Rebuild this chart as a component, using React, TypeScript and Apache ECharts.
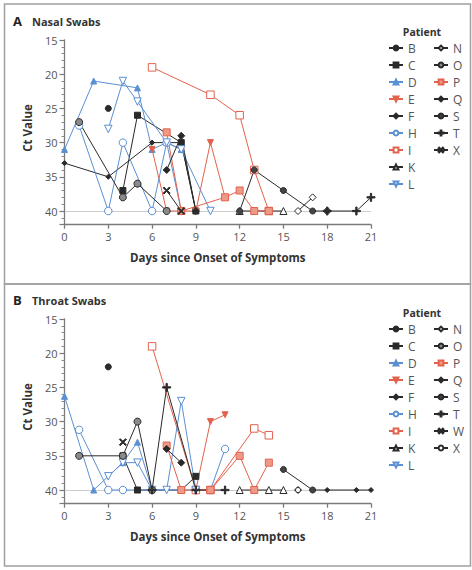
import React, { useEffect, useRef } from 'react';
import * as echarts from 'echarts';

// ---------- data ----------
const xTickLabels = [0, 3, 6, 9, 12, 15, 18, 21];
const yTickLabels = [15, 20, 25, 30, 35, 40];
const detectionLimit = 40;

const col1Patients = ['B', 'C', 'D', 'E', 'F', 'H', 'I', 'K', 'L'];
const nasalCol2Patients = ['N', 'O', 'P', 'Q', 'S', 'T', 'X'];
const throatCol2Patients = ['N', 'O', 'P', 'Q', 'S', 'T', 'W', 'X'];

// Nasal swabs: [day, Ct]
const nasalB = [[3, 25]];
const nasalC = [[4, 37], [5, 26], [8, 30], [9, 40]];
const nasalD = [[0, 31], [2, 21], [5, 22], [6, 31], [7, 30], [8, 31]];
const nasalE = [[6, 31], [7, 40], [9, 40], [10, 30], [11, 38]];
const nasalF = [[0, 33], [3, 35], [6, 30], [8, 30], [9, 40]];
const nasalH = [[1, 27.5], [3, 40], [4, 30], [6, 40], [7, 30], [8, 40]];
const nasalI = [[6, 19], [10, 23], [12, 26], [13, 34], [14, 40]];
const nasalK = [[12, 40], [15, 40]];
const nasalL = [[3, 28], [4, 21], [5, 24], [7, 30], [8, 31], [10, 40]];
const nasalN = [[16, 40], [17, 38]];
const nasalO = [[1, 27], [4, 38], [5, 36], [7, 40]];
const nasalP = [[7, 28.5], [8, 40], [11, 38], [12, 37], [13, 40], [14, 40]];
const nasalQ = [[7, 34], [8, 29], [9, 40]];
const nasalS = [[12, 40], [13, 34], [15, 37], [17, 40], [18, 40]];
const nasalT = [[18, 40], [20, 40], [21, 38]];
const nasalX = [[7, 37], [8, 40]];

// Throat swabs: [day, Ct]
const throatB = [[3, 22]];
const throatC = [[4, 35], [5, 40], [8, 40], [9, 38]];
const throatD = [[0, 26.3], [2, 40], [4, 36], [5, 33], [6, 40]];
const throatE = [[9, 40], [10, 30], [11, 29]];
const throatF = [[17, 40], [18, 40], [20, 40], [21, 40]];
const throatH = [[1, 31.2], [3, 40], [4, 40], [10, 40], [11, 34]];
const throatI = [[6, 19], [9, 40], [10, 40], [13, 31], [14, 32]];
const throatK = [[12, 40], [14, 40], [15, 40]];
const throatL = [[3, 38], [4, 36], [5, 36], [6, 40], [7, 40], [8, 27], [9, 40]];
const throatN = [[16, 40]];
const throatO = [[1, 35], [4, 35], [5, 30], [6, 40]];
const throatP = [[7, 33.5], [8, 40], [10, 40], [12, 35], [13, 40], [14, 36]];
const throatQ = [[7, 34], [8, 36]];
const throatS = [[15, 37], [17, 40]];
const throatT = [[6, 40], [7, 25], [9, 40], [11, 40]];
const throatW = [[4, 33]];
const throatX = [[16, 40]];

const nasalSeries: [string, number[][]][] = [
  ['B', nasalB], ['C', nasalC], ['D', nasalD], ['E', nasalE], ['F', nasalF],
  ['H', nasalH], ['I', nasalI], ['K', nasalK], ['L', nasalL], ['N', nasalN],
  ['O', nasalO], ['P', nasalP], ['Q', nasalQ], ['S', nasalS], ['T', nasalT], ['X', nasalX],
];
const throatSeries: [string, number[][]][] = [
  ['B', throatB], ['C', throatC], ['D', throatD], ['E', throatE], ['F', throatF],
  ['H', throatH], ['I', throatI], ['K', throatK], ['L', throatL], ['N', throatN],
  ['O', throatO], ['P', throatP], ['Q', throatQ], ['S', throatS], ['T', throatT],
  ['W', throatW], ['X', throatX],
];

// ---------- styles ----------
const BLACK = '#2a2a2a';
const BLUE = '#5b90d2';
const RED = '#e2624d';
const INV_TRI = 'path://M0,0L10,0L5,9Z';
const PLUS = 'path://M4.2,0H5.8V4.2H10V5.8H5.8V10H4.2V5.8H0V4.2H4.2Z';
const CROSS = 'path://M1.2,0L5,3.8L8.8,0L10,1.2L6.2,5L10,8.8L8.8,10L5,6.2L1.2,10L0,8.8L3.8,5L0,1.2Z';

type Sty = { symbol: string; size: number; line: string; fill: string; border: string };
const nasalStyle: Record<string, Sty> = {
  B: { symbol: 'circle', size: 6, line: BLACK, fill: BLACK, border: BLACK },
  C: { symbol: 'rect', size: 6, line: BLACK, fill: BLACK, border: BLACK },
  D: { symbol: 'triangle', size: 6, line: BLUE, fill: BLUE, border: BLUE },
  E: { symbol: INV_TRI, size: 6, line: RED, fill: RED, border: RED },
  F: { symbol: 'diamond', size: 5, line: BLACK, fill: BLACK, border: BLACK },
  H: { symbol: 'circle', size: 7.5, line: BLUE, fill: '#fff', border: BLUE },
  I: { symbol: 'rect', size: 7.5, line: RED, fill: '#fff', border: RED },
  K: { symbol: 'triangle', size: 7, line: BLACK, fill: '#fff', border: BLACK },
  L: { symbol: INV_TRI, size: 7.5, line: BLUE, fill: '#fff', border: BLUE },
  N: { symbol: 'diamond', size: 7, line: BLACK, fill: '#fff', border: BLACK },
  O: { symbol: 'circle', size: 7, line: BLACK, fill: '#8a8a8a', border: BLACK },
  P: { symbol: 'rect', size: 7, line: RED, fill: '#ee9a88', border: RED },
  Q: { symbol: 'diamond', size: 7, line: BLACK, fill: BLACK, border: BLACK },
  S: { symbol: 'circle', size: 6, line: BLACK, fill: '#444', border: BLACK },
  T: { symbol: PLUS, size: 8, line: BLACK, fill: BLACK, border: BLACK },
  W: { symbol: CROSS, size: 7, line: BLACK, fill: BLACK, border: BLACK },
  X: { symbol: CROSS, size: 7, line: BLACK, fill: BLACK, border: BLACK },
};
const throatStyle: Record<string, Sty> = {
  ...nasalStyle,
  X: { symbol: 'circle', size: 5, line: BLACK, fill: '#fff', border: BLACK },
};

const FONT = '"Open Sans", "Liberation Sans", sans-serif';
const GRID_LEFT = 64.5;
const GRID_W = 306.5;
const GRID_H = 184.7;
const PANEL_TOPS = [40, 319];
const LEGEND_TOPS = [37, 318];
const PATIENT_Y = [31.5, 312.5];

function buildSeries(list: [string, number[][]][], panel: number, styles: Record<string, Sty>) {
  const suffix = panel === 0 ? '' : '_b';
  const out: any[] = list.map(([name, data]) => {
    const s = styles[name];
    return {
      type: 'line',
      name: name + suffix,
      xAxisIndex: panel,
      yAxisIndex: panel,
      data,
      symbol: s.symbol,
      symbolSize: s.size,
      showAllSymbol: true,
      lineStyle: { color: s.line, width: 1 },
      itemStyle: { color: s.fill, borderColor: s.border, borderWidth: 1 },
      emphasis: { disabled: true },
      z: 3,
    };
  });
  out.push({
    type: 'line',
    name: 'lod' + panel,
    xAxisIndex: panel,
    yAxisIndex: panel,
    data: [],
    markLine: {
      silent: true,
      symbol: 'none',
      label: { show: false },
      lineStyle: { type: 'dotted', color: '#9a9a9a', width: 1 },
      data: [{ yAxis: detectionLimit }],
      z: 1,
    },
  });
  return out;
}

function legend(names: string[], panel: number, left: number) {
  const suffix = panel === 0 ? '' : '_b';
  return {
    orient: 'vertical',
    left,
    top: LEGEND_TOPS[panel],
    data: names.map((n) => n + suffix),
    itemWidth: 14,
    itemHeight: 6,
    itemGap: 5,
    selectedMode: false,
    formatter: (n: string) => n.replace('_b', ''),
    textStyle: { fontSize: 12, color: '#555', fontFamily: FONT, height: 12, lineHeight: 12 },
  };
}

function xAxis(panel: number) {
  return {
    type: 'value',
    gridIndex: panel,
    min: 0,
    max: 21,
    interval: 3,
    name: 'Days since Onset of Symptoms',
    nameLocation: 'middle',
    nameGap: 27,
    nameTextStyle: { fontWeight: 'bold', fontSize: 11.5, color: '#333', fontFamily: FONT },
    axisLine: { show: true, onZero: false, lineStyle: { color: '#7a7a7a', width: 1.3 } },
    axisTick: { show: true, length: 4, lineStyle: { color: '#7a7a7a', width: 1.3 } },
    axisLabel: { color: '#555', fontSize: 11, margin: 6, fontFamily: FONT },
    splitLine: { show: false },
  };
}

function yAxis(panel: number) {
  return {
    type: 'value',
    gridIndex: panel,
    inverse: true,
    min: 15,
    max: 42,
    interval: 5,
    axisLine: { show: true, lineStyle: { color: '#7a7a7a', width: 1.3 } },
    axisTick: { show: true, length: 5, lineStyle: { color: '#7a7a7a', width: 1.2 } },
    minorTick: { show: true, splitNumber: 5, length: 3, lineStyle: { color: '#8a8a8a' } },
    axisLabel: {
      color: '#555',
      fontSize: 11,
      margin: 7,
      fontFamily: FONT,
      formatter: (v: number) => (yTickLabels.indexOf(v) >= 0 ? String(v) : ''),
    },
    splitLine: { show: false },
    minorSplitLine: { show: false },
  };
}

function texts() {
  const els: any[] = [];
  const frames = [
    { y: 4, h: 280 },
    { y: 284, h: 282 },
  ];
  frames.forEach((f) =>
    els.push({
      type: 'rect',
      shape: { x: 4.5, y: f.y, width: 466, height: f.h },
      style: { fill: 'none', stroke: '#a0a0a0', lineWidth: 1.5 },
      silent: true,
      z: 0,
    })
  );
  const titles = [
    { letter: 'A', name: 'Nasal Swabs', y: 21 },
    { letter: 'B', name: 'Throat Swabs', y: 300 },
  ];
  titles.forEach((t, i) => {
    els.push({
      type: 'text',
      x: 13,
      y: t.y,
      style: { text: t.letter, font: `bold 13px ${FONT}`, fill: '#222', textVerticalAlign: 'middle' },
    });
    els.push({
      type: 'text',
      x: 32,
      y: t.y,
      style: { text: t.name, font: `bold 11px ${FONT}`, fill: '#333', textVerticalAlign: 'middle' },
    });
    els.push({
      type: 'text',
      x: 27,
      y: PANEL_TOPS[i] + 88,
      rotation: Math.PI / 2,
      style: {
        text: 'Ct Value',
        font: `bold 11.5px ${FONT}`,
        fill: '#333',
        textAlign: 'center',
        textVerticalAlign: 'middle',
      },
    });
    els.push({
      type: 'text',
      x: 422,
      y: PATIENT_Y[i],
      style: {
        text: 'Patient',
        font: `bold 10.5px ${FONT}`,
        fill: '#333',
        textAlign: 'center',
        textVerticalAlign: 'middle',
      },
    });
  });
  return els;
}

export default function App() {
  const ref = useRef<HTMLDivElement>(null);
  useEffect(() => {
    if (!ref.current) return;
    const chart = echarts.init(ref.current, undefined, { renderer: 'svg' });
    chart.setOption({
      animation: false,
      backgroundColor: '#fff',
      textStyle: { fontFamily: FONT },
      grid: PANEL_TOPS.map((top) => ({ left: GRID_LEFT, top, width: GRID_W, height: GRID_H })),
      xAxis: [xAxis(0), xAxis(1)],
      yAxis: [yAxis(0), yAxis(1)],
      legend: [
        legend(col1Patients, 0, 383),
        legend(nasalCol2Patients, 0, 428),
        legend(col1Patients, 1, 383),
        legend(throatCol2Patients, 1, 428),
      ],
      graphic: texts(),
      series: [...buildSeries(nasalSeries, 0, nasalStyle), ...buildSeries(throatSeries, 1, throatStyle)],
    });
    return () => chart.dispose();
  }, []);
  return (
    <div
      ref={ref}
      style={{ position: 'fixed', left: 0, top: 0, width: 472, height: 570, background: '#fff' }}
    />
  );
}
